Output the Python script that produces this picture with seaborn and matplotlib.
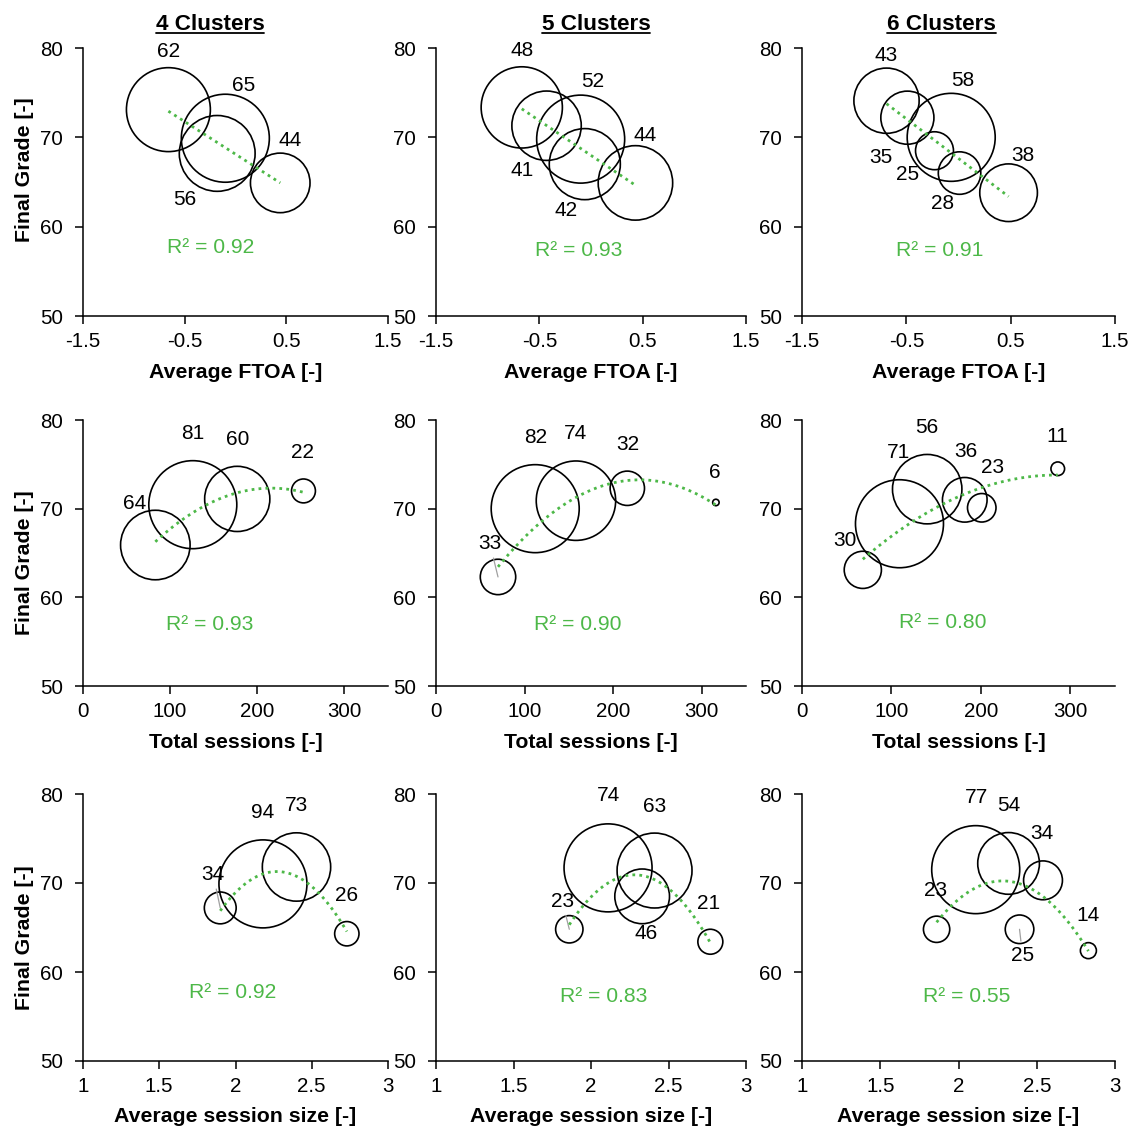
import numpy as np
import pandas as pd
import matplotlib
matplotlib.use("Agg")
import matplotlib.pyplot as plt
from matplotlib.lines import Line2D
import seaborn as sns

# ---------------- data ----------------
cluster_titles = ["4 Clusters", "5 Clusters", "6 Clusters"]
row_xlabels = ["Average FTOA [-]", "Total sessions [-]", "Average session size [-]"]
ylabel_text = "Final Grade [-]"

# Row 1: Average FTOA
ftoa4_x = [-0.66, -0.10, -0.18, 0.44]
ftoa4_grade = [73.1, 69.9, 68.2, 64.9]
ftoa4_n = [62, 65, 56, 44]

ftoa5_x = [-0.67, -0.43, -0.10, -0.06, 0.43]
ftoa5_grade = [73.35, 71.3, 69.8, 67.0, 64.9]
ftoa5_n = [48, 41, 52, 42, 44]

ftoa6_x = [-0.69, -0.49, -0.07, -0.23, 0.01, 0.48]
ftoa6_grade = [74.1, 72.2, 70.0, 68.5, 66.0, 63.8]
ftoa6_n = [43, 35, 58, 25, 28, 38]

# Row 2: Total sessions
sess4_x = [83, 126, 177, 253]
sess4_grade = [65.9, 70.45, 71.1, 72.0]
sess4_n = [64, 81, 60, 22]

sess5_x = [70, 112, 158, 216, 316]
sess5_grade = [62.3, 70.0, 70.9, 72.3, 70.7]
sess5_n = [33, 82, 74, 32, 6]

sess6_x = [68, 109, 140, 182, 201, 286]
sess6_grade = [63.1, 68.3, 72.2, 71.0, 70.1, 74.5]
sess6_n = [30, 71, 56, 36, 23, 11]

# Row 3: Average session size
size4_x = [1.90, 2.18, 2.40, 2.73]
size4_grade = [67.2, 69.9, 71.8, 64.3]
size4_n = [34, 94, 73, 26]

size5_x = [1.86, 2.11, 2.41, 2.33, 2.77]
size5_grade = [64.8, 71.7, 71.4, 68.5, 63.4]
size5_n = [23, 74, 63, 46, 21]

size6_x = [1.86, 2.11, 2.32, 2.54, 2.39, 2.83]
size6_grade = [64.8, 71.5, 72.2, 70.3, 64.8, 62.4]
size6_n = [23, 77, 54, 34, 25, 14]

r2_ftoa = [0.92, 0.93, 0.91]
r2_sessions = [0.93, 0.90, 0.80]
r2_size = [0.92, 0.83, 0.55]

xticks_rows = [[-1.5, -0.5, 0.5, 1.5], [0, 100, 200, 300], [1, 1.5, 2, 2.5, 3]]
xlims_rows = [(-1.5, 1.5), (0, 350), (1, 3)]
yticks = [50, 60, 70, 80]
trend_order = [1, 2, 2]

# ---------------- layout (pixels / styles) ----------------
W, H = 1132, 1129
col_px = [(83, 305), (436, 310), (802, 313)]      # left, width
row_px = [(48, 316), (420, 686), (794, 1061)]     # top, bottom

# label offsets (px, up positive) per chart, in data order
label_off = {
    (0, 0): [(0, 58), (18, 53), (-32, -46), (10, 42)],
    (0, 1): [(0, 57), (-24, -45), (12, 58), (-19, -46), (10, 47)],
    (0, 2): [(0, 45), (-27, -40), (12, 57), (-27, -24), (-17, -30), (14, 37)],
    (1, 0): [(-21, 42), (0, 71), (0, 59), (-1, 38)],
    (1, 1): [(-8, 33), (0, 71), (0, 67), (0, 44), (-1, 30)],
    (1, 2): [(-18, 29), (-1, 71), (0, 62), (1, 48), (11, 40), (-1, 32)],
    (2, 0): [(-7, 33), (0, 71), (0, 61), (0, 38)],
    (2, 1): [(-7, 28), (0, 72), (0, 64), (4, -37), (-2, 38)],
    (2, 2): [(-1, 39), (1, 72), (0, 58), (-1, 47), (3, -26), (0, 35)],
}
leaders = {(1, 1): [0], (2, 0): [0], (2, 1): [0], (2, 2): [4]}
r2_pos = {
    (0, 0): (0.42, 0.254), (0, 1): (0.46, 0.246), (0, 2): (0.44, 0.246),
    (1, 0): (0.414, 0.23), (1, 1): (0.458, 0.23), (1, 2): (0.45, 0.237),
    (2, 0): (0.49, 0.255), (2, 1): (0.54, 0.24), (2, 2): (0.527, 0.24),
}
title_x = [0.416, 0.516, 0.447]
ylabel_y = [0.545, 0.462, 0.461]

GREEN = "#4DB848"
D_MAX_PT = 88 * 0.72   # largest bubble diameter in points

sns.set_theme(style="ticks")
plt.rcParams["font.family"] = ["Liberation Sans", "DejaVu Sans"]
plt.rcParams["axes.unicode_minus"] = False

fig = plt.figure(figsize=(W / 100, H / 100), dpi=100)

datasets = [
    [(ftoa4_x, ftoa4_grade, ftoa4_n), (ftoa5_x, ftoa5_grade, ftoa5_n), (ftoa6_x, ftoa6_grade, ftoa6_n)],
    [(sess4_x, sess4_grade, sess4_n), (sess5_x, sess5_grade, sess5_n), (sess6_x, sess6_grade, sess6_n)],
    [(size4_x, size4_grade, size4_n), (size5_x, size5_grade, size5_n), (size6_x, size6_grade, size6_n)],
]
r2_rows = [r2_ftoa, r2_sessions, r2_size]

titles = []
for r in range(3):
    top, bot = row_px[r]
    for c in range(3):
        left, width = col_px[c]
        ax = fig.add_axes([left / W, 1 - bot / H, width / W, (bot - top) / H])
        xs, ys, ns = datasets[r][c]
        df = pd.DataFrame({"x": xs, "grade": ys, "n": ns})
        vmax = max(ns)
        size_map = {v: (v / vmax * D_MAX_PT) ** 2 for v in ns}
        sns.scatterplot(data=df, x="x", y="grade", size="n", sizes=size_map,
                        facecolor="none", edgecolor="black", linewidth=1.2,
                        legend=False, ax=ax, zorder=3)
        sns.regplot(data=df, x="x", y="grade", order=trend_order[r], scatter=False,
                    ci=None, truncate=True, ax=ax,
                    line_kws=dict(color=GREEN, lw=2.0, linestyle=(0, (1, 1.5)),
                                  zorder=4))
        for i, (xv, yv, nv) in enumerate(zip(xs, ys, ns)):
            dx, dy = label_off[(r, c)][i]
            kw = {}
            if i in leaders.get((r, c), []):
                kw["arrowprops"] = dict(arrowstyle="-", color="#A0A0A0", lw=0.9,
                                        shrinkA=1, shrinkB=0)
            ax.annotate(str(nv), xy=(xv, yv), xytext=(dx, dy),
                        textcoords="offset pixels", ha="center", va="center",
                        fontsize=15, color="black", **kw)
        fx, fy = r2_pos[(r, c)]
        ax.text(fx, fy, f"R² = {r2_rows[r][c]:.2f}", transform=ax.transAxes,
                ha="center", va="center", color=GREEN, fontsize=15.2)

        ax.set_xlim(*xlims_rows[r])
        ax.set_ylim(50, 80)
        ax.set_xticks(xticks_rows[r])
        ax.set_xticklabels([f"{t:g}" for t in xticks_rows[r]])
        ax.set_yticks(yticks)
        ax.set_yticklabels([str(t) for t in yticks])
        ax.tick_params(axis="both", direction="out", length=6, width=1.1,
                       color="black", labelsize=14.8, labelcolor="black")
        ax.tick_params(axis="x", pad=5.5)
        ax.tick_params(axis="y", pad=8.5)
        for s in ["top", "right"]:
            ax.spines[s].set_visible(False)
        for s in ["left", "bottom"]:
            ax.spines[s].set_color("black")
            ax.spines[s].set_linewidth(1.1)
        ax.set_facecolor("white")

        hpx = bot - top
        ax.set_xlabel(row_xlabels[r], fontsize=15.3, fontweight="bold", color="black")
        ax.xaxis.set_label_coords(0.5, -56 / hpx)
        ax.xaxis.label.set_va("center")
        if c == 0:
            ax.set_ylabel(ylabel_text, fontsize=15.3, fontweight="bold", color="black")
            ax.yaxis.set_label_coords(-58 / width, ylabel_y[r])
            ax.yaxis.label.set_va("center")
        else:
            ax.set_ylabel("")

        if r == 0:
            t = ax.text(title_x[c], 1 + (48 - 30) / hpx, cluster_titles[c],
                        transform=ax.transAxes, ha="center", va="baseline",
                        fontsize=16.2, fontweight="bold", color="black")
            titles.append(t)

fig.canvas.draw()
rend = fig.canvas.get_renderer()
inv = fig.transFigure.inverted()
for t in titles:
    bb = t.get_window_extent(renderer=rend)
    base = t.get_transform().transform(t.get_position())
    y = base[1] - 3
    p0 = inv.transform((bb.x0, y))
    p1 = inv.transform((bb.x1, y))
    fig.add_artist(Line2D([p0[0], p1[0]], [p0[1], p1[1]], color="black",
                          lw=1.3, transform=fig.transFigure))

fig.savefig("out.png", dpi=100, facecolor="white")
